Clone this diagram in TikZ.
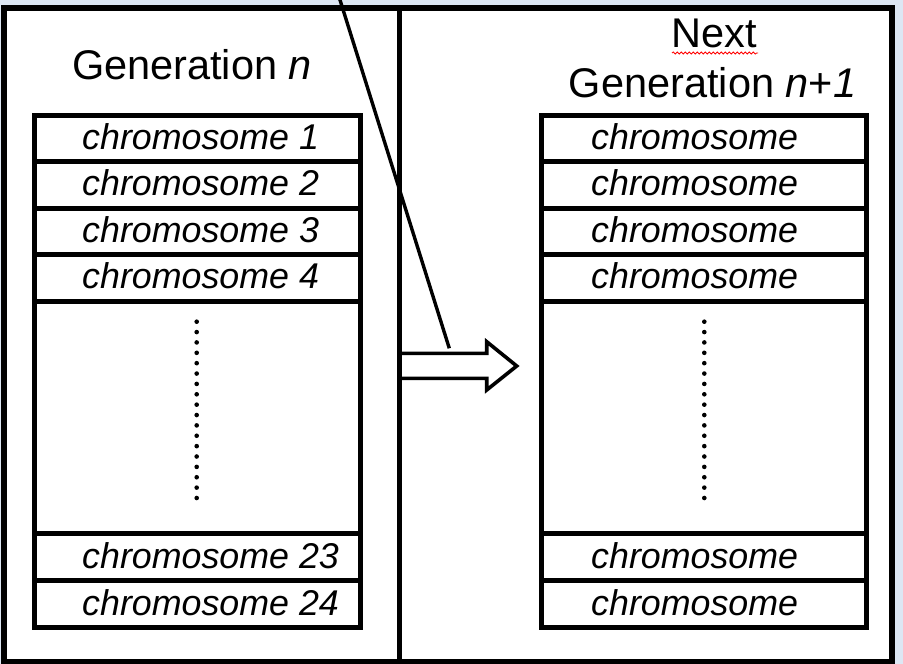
\documentclass[tikz,border=0pt]{standalone}
\usepackage{fontspec}
\setmainfont{Liberation Sans}
\usetikzlibrary{decorations.pathmorphing}
\definecolor{bgblue}{RGB}{221,231,244}
\tikzset{
  frame/.style={draw=black, line width=6pt, fill=white},
  rowbox/.style={draw=black, line width=5pt, minimum height=46.5pt, inner sep=0pt, outer sep=0pt},
  lrow/.style={rowbox, minimum width=326pt},
  rrow/.style={rowbox, minimum width=325pt},
  gen/.style={font=\fontsize{41.5}{50}\selectfont, inner sep=0pt, anchor=base},
  chrom/.style={font=\fontsize{35.8}{42}\selectfont\itshape, inner sep=0pt, anchor=base west},
  dotmark/.style={fill=black},
  blockarrow/.style={draw=black, line width=3.6pt, fill=white, line join=miter},
  pointer/.style={draw=black, line width=3.4pt}
}
\begin{document}
\begin{tikzpicture}[x=1pt, y=-1pt]
\useasboundingbox[fill=bgblue] (0,0) rectangle (903,664);
% outer frame and divider
\draw[frame] (3.8,8) rectangle (892,662);
\coordinate (divtop) at (399.5,8);
\coordinate (divbot) at (399.5,662);
\draw[line width=5.5pt] (divtop) -- (divbot);

% titles
\node[gen] (genL) at (192,79) {Generation \textit{n}};
\node[gen] (next) at (714,47) {Next};
\node[gen] (genR) at (712.5,97) {Generation \textit{n}+\textit{1}};
\draw[red, line width=0.8pt, decorate, decoration={snake, amplitude=1.1pt, segment length=4pt}]
  (672,53) -- (758,53);

% left column
\node[lrow] (L1) at (197,138.25) {};
\node[lrow] (L2) at (197,184.75) {};
\node[lrow] (L3) at (197,231.25) {};
\node[lrow] (L4) at (197,277.75) {};
\node[lrow, minimum height=232pt] (Lmid) at (197,417) {};
\node[lrow, minimum height=47pt] (L23) at (197,556.5) {};
\node[lrow, minimum height=47pt] (L24) at (197,603.5) {};
\node[chrom] (tL1) at (82,149.25) {chromosome 1};
\node[chrom] (tL2) at (82,195.75) {chromosome 2};
\node[chrom] (tL3) at (82,242.25) {chromosome 3};
\node[chrom] (tL4) at (82,288.75) {chromosome 4};
\node[chrom] (tL23) at (82,568) {chromosome 23};
\node[chrom] (tL24) at (82,615.5) {chromosome 24};
\foreach \i in {0,...,17}
  \fill[dotmark] (196.7,321.7+10.37*\i) circle (2.3);

% right column
\node[rrow] (R1) at (703.5,138.25) {};
\node[rrow] (R2) at (703.5,184.75) {};
\node[rrow] (R3) at (703.5,231.25) {};
\node[rrow] (R4) at (703.5,277.75) {};
\node[rrow, minimum height=232pt] (Rmid) at (703.5,417) {};
\node[rrow, minimum height=47pt] (R23) at (703.5,556.5) {};
\node[rrow, minimum height=47pt] (R24) at (703.5,603.5) {};
\node[chrom] (tR1) at (591,149.25) {chromosome};
\node[chrom] (tR2) at (591,195.75) {chromosome};
\node[chrom] (tR3) at (591,242.25) {chromosome};
\node[chrom] (tR4) at (591,288.75) {chromosome};
\node[chrom] (tR23) at (591,568) {chromosome};
\node[chrom] (tR24) at (591,615.5) {chromosome};
\foreach \i in {0,...,17}
  \fill[dotmark] (704.3,321.7+10.37*\i) circle (2.3);

% block arrow
\draw[blockarrow] (402,353.3) -- (486.7,353.3) -- (486.7,341.7) -- (516.7,366)
  -- (486.7,390) -- (486.7,378.3) -- (402,378.3);

% pointer line
\coordinate (ptop) at (337.5,-8);
\coordinate (pend) at (449.3,348.3);
\draw[pointer] (ptop) -- (pend);
\end{tikzpicture}
\end{document}
